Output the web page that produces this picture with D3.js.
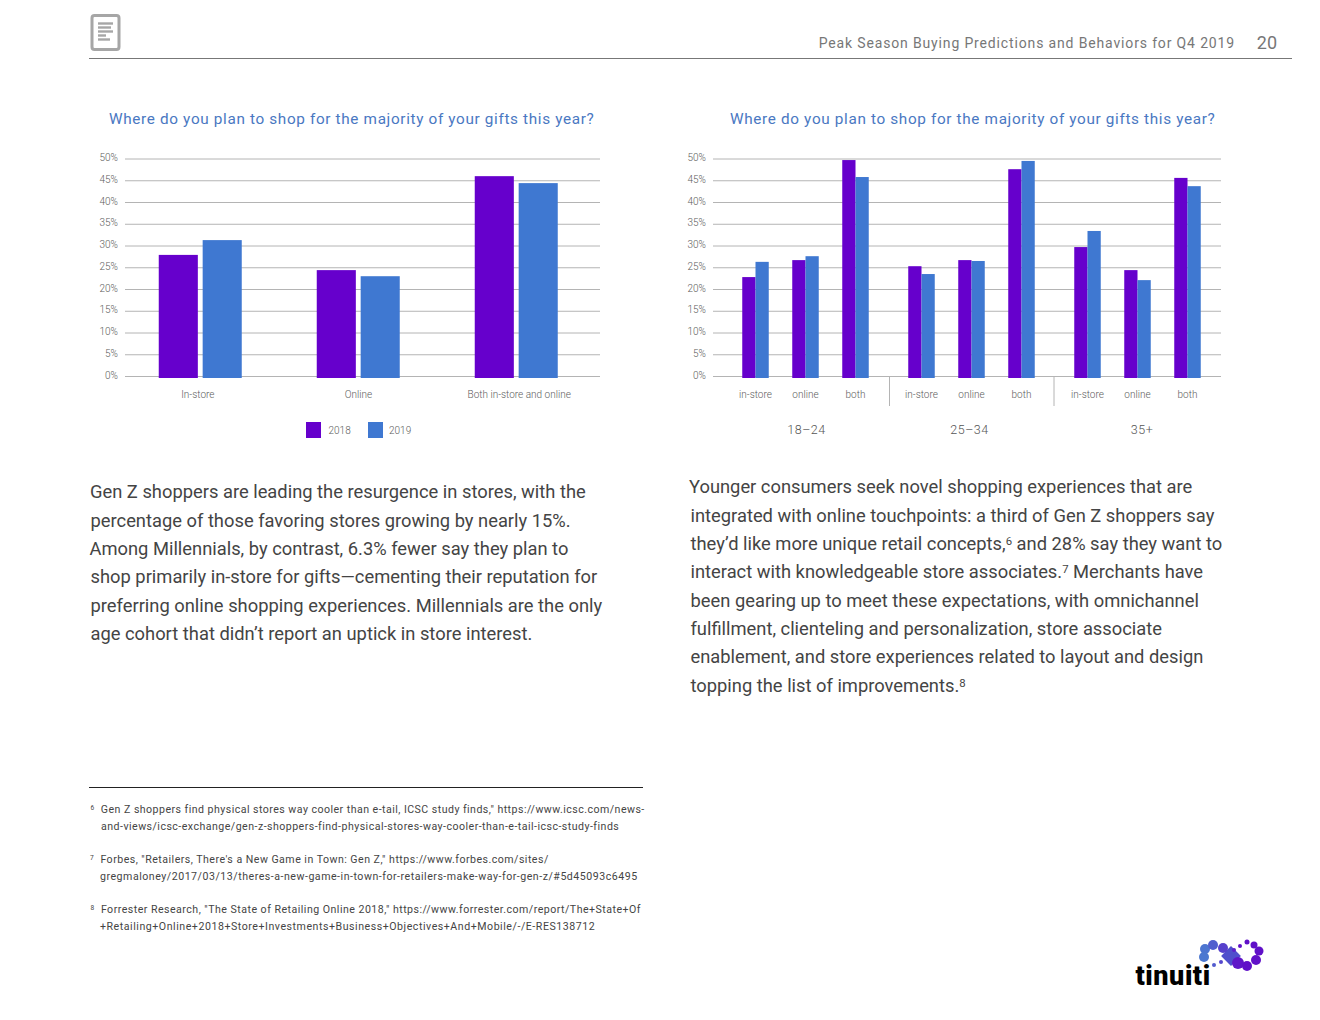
<!DOCTYPE html>
<html><head><meta charset="utf-8">
<script src="https://cdnjs.cloudflare.com/ajax/libs/d3/7.8.5/d3.min.js"></script>
<style>html,body{margin:0;background:#fff}svg{display:block}text{font-family:Roboto,sans-serif}</style>
</head><body><svg id="c" width="1320" height="1020"></svg>
<script>
const chartTitle = "Where do you plan to shop for the majority of your gifts this year?";
const headerText = "Peak Season Buying Predictions and Behaviors for Q4 2019";
const pageNumber = "20";
const seriesNames = ["2018","2019"];
const yTicks = [0,5,10,15,20,25,30,35,40,45,50];
const leftCategories = ["In-store","Online","Both in-store and online"];
const left2018 = [28.3,24.8,46.4];
const left2019 = [31.7,23.4,44.8];
const ageGroups = ["18–24","25–34","35+"];
const channels = ["in-store","online","both"];
const right2018 = [[23.2,27.1,50.1],[25.7,27.1,48.0],[30.1,24.8,46.0]];
const right2019 = [[26.7,28.0,46.2],[23.9,26.9,49.9],[33.8,22.5,44.1]];
const leftBody = ["Gen Z shoppers are leading the resurgence in stores, with the","percentage of those favoring stores growing by nearly 15%.","Among Millennials, by contrast, 6.3% fewer say they plan to","shop primarily in-store for gifts—cementing their reputation for","preferring online shopping experiences. Millennials are the only","age cohort that didn’t report an uptick in store interest."];
const rightBody = ["Younger consumers seek novel shopping experiences that are","integrated with online touchpoints: a third of Gen Z shoppers say","they’d like more unique retail concepts,^6^ and 28% say they want to","interact with knowledgeable store associates.^7^ Merchants have","been gearing up to meet these expectations, with omnichannel","fulfillment, clienteling and personalization, store associate","enablement, and store experiences related to layout and design","topping the list of improvements.^8^"];
const footnotes = [["^6^\u00A0\u00A0Gen Z shoppers find physical stores way cooler than e-tail, ICSC study finds,\" https://www.icsc.com/news-","and-views/icsc-exchange/gen-z-shoppers-find-physical-stores-way-cooler-than-e-tail-icsc-study-finds"],["^7^\u00A0\u00A0Forbes, \"Retailers, There's a New Game in Town: Gen Z,\" https://www.forbes.com/sites/","gregmaloney/2017/03/13/theres-a-new-game-in-town-for-retailers-make-way-for-gen-z/#5d45093c6495"],["^8^\u00A0\u00A0Forrester Research, \"The State of Retailing Online 2018,\" https://www.forrester.com/report/The+State+Of","+Retailing+Online+2018+Store+Investments+Business+Objectives+And+Mobile/-/E-RES138712"]];

const PURPLE="#6600cc", BLUE="#3f78d1", GRID="#b4b4b4", LABEL="#5c5c5c";
const colors=d3.scaleOrdinal().domain(seriesNames).range([PURPLE,BLUE]);
const svg=d3.select("#c");
function rich(sel,s){ // ^n^ marks superscript
  s.split("^").forEach((p,i)=>{ if(!p) return;
    const t=sel.append("tspan").text(p);
    if(i%2){t.attr("font-size","0.62em").attr("baseline-shift","45%");}
  });
}
function para(lines,xs,y0,dy,size,fill,ls){
  lines.forEach((l,i)=>{
    const t=svg.append("text").attr("x",Array.isArray(xs)?xs[i]:xs).attr("y",y0+i*dy)
      .attr("font-size",size).attr("fill",fill).attr("letter-spacing",Array.isArray(ls)?ls[i]:(ls||0)).attr("xml:space","preserve");
    rich(t,l);
  });
}
// header
svg.append("line").attr("x1",89).attr("x2",1292).attr("y1",58.5).attr("y2",58.5).attr("stroke","#777");
svg.append("text").attr("x",1235).attr("y",48).attr("text-anchor","end").attr("font-size",14).attr("letter-spacing",0.85).attr("fill","#777").text(headerText);
svg.append("text").attr("x",1277).attr("y",49).attr("text-anchor","end").attr("font-size",18).attr("fill","#777").text(pageNumber);
// doc icon
svg.append("rect").attr("x",92).attr("y",15.5).attr("width",27).attr("height",34).attr("rx",2.5).attr("fill","#fff").attr("stroke","#a6a6a6").attr("stroke-width",3);
[[98,113,23.5],[98,111,27.5],[98,113,31.5],[98,106,35.5],[98,110,39.5]].forEach(d=>svg.append("line").attr("x1",d[0]).attr("x2",d[1]).attr("y1",d[2]).attr("y2",d[2]).attr("stroke","#a6a6a6").attr("stroke-width",2.4));

const gridY=d3.scaleLinear().domain([0,50]).range([376.5,159]);
const barY=d3.scaleLinear().domain([0,50]).range([378,160.5]);
function frame(x0,x1,labelX,titleX){
  svg.append("text").attr("x",titleX).attr("y",123.5).attr("font-size",15.3).attr("letter-spacing",0.655).attr("fill","#4a78c2").text(chartTitle);
  yTicks.forEach(t=>{
    svg.append("line").attr("x1",x0).attr("x2",x1).attr("y1",gridY(t)).attr("y2",gridY(t)).attr("stroke",GRID);
    svg.append("text").attr("x",labelX).attr("y",gridY(t)+2).attr("text-anchor","end").attr("font-size",10).attr("font-weight",300).attr("fill",LABEL).text(t+"%");
  });
}
// left chart
frame(125,600,118,109);
const x0L=d3.scaleBand().domain(leftCategories).range([121.25,595.25]);
const x1L=d3.scaleBand().domain(seriesNames).range([0,83]).paddingInner(0.11);
const labL=d3.scaleBand().domain(leftCategories).range([117.5,599.5]);
const gL=svg.append("g");
leftCategories.forEach((c,i)=>{
  const off=x0L(c)+(x0L.step()-83)/2;
  [left2018[i],left2019[i]].forEach((v,k)=>{
    const s=seriesNames[k];
    gL.append("rect").attr("x",off+x1L(s)).attr("width",x1L.bandwidth()).attr("y",barY(v)).attr("height",barY(0)-barY(v)).attr("fill",colors(s));
  });
  svg.append("text").attr("x",labL(c)+labL.bandwidth()/2).attr("y",398).attr("text-anchor","middle").attr("font-size",10).attr("font-weight",300).attr("fill",LABEL).text(c);
});
// legend
seriesNames.forEach((s,i)=>{
  const lx=306+i*62;
  svg.append("rect").attr("x",lx).attr("y",422).attr("width",15).attr("height",16).attr("fill",colors(s));
  svg.append("text").attr("x",lx+22.5-i*1.5).attr("y",434).attr("font-size",10).attr("font-weight",300).attr("fill",LABEL).text(s);
});
// right chart
frame(713,1221,706,730);
const x0R=d3.scaleBand().domain(ageGroups).range([722.5,1220.5]);
const x1R=d3.scaleBand().domain(channels).range([0,150]);
const x2R=d3.scaleBand().domain(seriesNames).range([0,26.5]);
ageGroups.forEach((g,gi)=>{
  const base=x0R(g)+(x0R.step()-150)/2;
  channels.forEach((c,ci)=>{
    const off=base+x1R(c)+(x1R.step()-26.5)/2;
    seriesNames.forEach((s,k)=>{
      const v=(k?right2019:right2018)[gi][ci];
      svg.append("rect").attr("x",off+x2R(s)).attr("width",x2R.bandwidth()).attr("y",barY(v)).attr("height",barY(0)-barY(v)).attr("fill",colors(s));
    });
    svg.append("text").attr("x",base+x1R(c)+x1R.step()/2).attr("y",398).attr("text-anchor","middle").attr("font-size",10).attr("font-weight",300).attr("fill",LABEL).text(c);
  });
  svg.append("text").attr("x",[806.5,969.5,1142][gi]).attr("y",434).attr("text-anchor","middle").attr("font-size",12.5).attr("letter-spacing",0.5).attr("font-weight",300).attr("fill","#555").text(g);
  if(gi>0){ const sx=x0R(g)+[0,1,-0.5][gi]; svg.append("line").attr("x1",sx).attr("x2",sx).attr("y1",377).attr("y2",406).attr("stroke",GRID); }
});
// body
para(leftBody,[90,90.5,89.5,90.5,90.5,90.5],498.3,28.35,18.34,"#444");
para(rightBody,[689,690.5,690.5,690.5,690.5,690.5,690.5,690.5],493.3,28.35,18.34,"#444");
// footnotes
svg.append("line").attr("x1",89).attr("x2",643).attr("y1",787.5).attr("y2",787.5).attr("stroke","#222");
footnotes.forEach((f,i)=>{
  const y=[813,863,913][i];
  para(f,[[90.5,101],[90,100],[90.5,100]][i],y,17,10.6,"#444",[[0.46,0.47],[0.48,0.52],[0.48,0.54]][i]);
});
// logo
const logoDots=[[1205,949,5],[1213,945,5],[1223,948,5],[1204,957,5],[1238,963,6],[1247,966,5],[1256,960,5],[1259,951,4.5],[1254,945,3.5],[1247,942,2.5],[1240,946,2],[1234,950,2],[1221,962,2],[1214,965,2]];
const logoC=d3.scaleLinear().domain([1204,1240]).range(["#4c78d0","#6010c8"]).clamp(true);
svg.append("rect").attr("x",1224).attr("y",949).attr("width",14).attr("height",14).attr("fill","#4f4fcc").attr("transform","rotate(45 1231 956)");
logoDots.forEach(d=>svg.append("circle").attr("cx",d[0]).attr("cy",d[1]).attr("r",d[2]).attr("fill",logoC(d[0])));
svg.append("text").attr("x",1135.5).attr("y",985).attr("font-size",27).attr("font-weight",900).attr("letter-spacing",0.55).attr("fill","#000").text("tinuiti");
</script></body></html>
